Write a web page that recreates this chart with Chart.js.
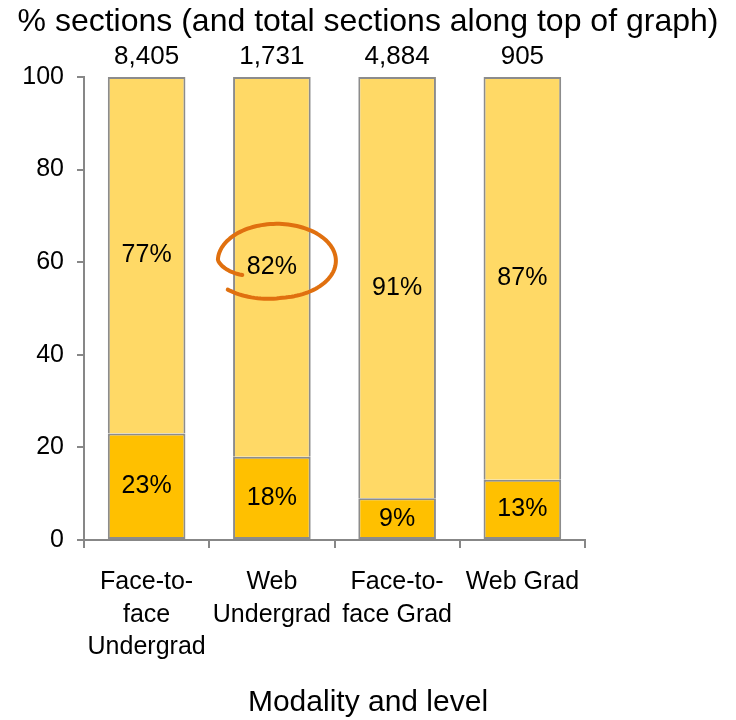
<!DOCTYPE html>
<html>
<head>
<meta charset="utf-8">
<script src="https://cdn.jsdelivr.net/npm/chart.js@4/dist/chart.umd.min.js"></script>
<style>
  body { margin: 0; background: #fff; }
  #wrap { width: 736px; height: 720px; }
</style>
</head>
<body>
<div id="wrap"><canvas id="sectionsChart" width="736" height="720"></canvas></div>
<script>
const categories = [['Face-to-', 'face', 'Undergrad'], ['Web', 'Undergrad'], ['Face-to-', 'face Grad'], ['Web Grad']];
const lowerShare = [23, 18, 9, 13];
const upperShare = [77, 82, 91, 87];
const totalSections = ['8,405', '1,731', '4,884', '905'];
const yTicks = [0, 20, 40, 60, 80, 100];
const chartTitle = '% sections (and total sections along top of graph)';
const xAxisTitle = 'Modality and level';

const FONT = "'Liberation Sans', Arial, sans-serif";
const AXIS_GRAY = '#878787';

// percent labels inside each stacked segment
const segmentLabels = {
    id: 'segmentLabels',
    afterDatasetsDraw(chart) {
        const ctx = chart.ctx;
        ctx.save();
        ctx.font = '25px ' + FONT;
        ctx.fillStyle = '#000';
        ctx.textAlign = 'center';
        ctx.textBaseline = 'middle';
        chart.data.datasets.forEach((ds, di) => {
            chart.getDatasetMeta(di).data.forEach((bar, i) => {
                ctx.fillText(ds.data[i] + '%', bar.x, (bar.y + bar.base) / 2);
            });
        });
        ctx.restore();
    }
};

// titles centred on the whole canvas, totals along the top
const headings = {
    id: 'headings',
    afterDraw(chart) {
        const ctx = chart.ctx;
        const x = chart.scales.x;
        ctx.save();
        ctx.fillStyle = '#000';
        ctx.textAlign = 'center';
        ctx.textBaseline = 'middle';
        ctx.font = '32px ' + FONT;
        ctx.fillText(chartTitle, chart.width / 2, 22);
        ctx.font = '30px ' + FONT;
        ctx.fillText(xAxisTitle, chart.width / 2, 703);
        ctx.font = '26px ' + FONT;
        totalSections.forEach((t, i) => {
            ctx.fillText(t, x.getPixelForValue(i), chart.chartArea.top - 20);
        });
        ctx.restore();
    }
};

// hand drawn orange loop around the Web Undergrad share
const handCircle = {
    id: 'handCircle',
    afterDraw(chart) {
        const bar = chart.getDatasetMeta(1).data[1];
        const cx = bar.x + 5;
        const cy = (bar.y + bar.base) / 2 - 6;
        const rx = 59, ry = 37;
        const a0 = 2.39, a1 = -3.72;
        const ctx = chart.ctx;
        ctx.save();
        ctx.strokeStyle = '#E0700F';
        ctx.lineWidth = 4;
        ctx.lineCap = 'round';
        ctx.lineJoin = 'round';
        ctx.beginPath();
        const n = 120;
        for (let k = 0; k <= n; k++) {
            const t = k / n;
            const a = a0 + (a1 - a0) * t;
            const s = 1 + 0.14 * Math.max(0, 1 - t / 0.15) - 0.3 * Math.pow(Math.max(0, (t - 0.9) / 0.1), 1.3);
            const px = cx + Math.cos(a) * rx * s;
            const py = cy + Math.sin(a) * ry * s;
            if (k === 0) ctx.moveTo(px, py); else ctx.lineTo(px, py);
        }
        ctx.stroke();
        ctx.restore();
    }
};

new Chart(document.getElementById('sectionsChart').getContext('2d'), {
    type: 'bar',
    data: {
        labels: categories,
        datasets: [{
            label: 'lower',
            data: lowerShare,
            backgroundColor: '#FFC000',
            borderColor: '#8C8C8C',
            borderWidth: 2,
            borderSkipped: false
        }, {
            label: 'upper',
            data: upperShare,
            backgroundColor: '#FFD966',
            borderColor: '#8C8C8C',
            borderWidth: 2,
            borderSkipped: 'bottom'
        }]
    },
    options: {
        responsive: false,
        animation: false,
        barPercentage: 0.62,
        categoryPercentage: 1,
        layout: { padding: { left: 0, right: 151, top: 77, bottom: 0 } },
        plugins: {
            legend: { display: false },
            tooltip: { enabled: false },
            title: { display: false }
        },
        scales: {
            x: {
                stacked: true,
                afterFit(scale) { scale.height = 180; },
                grid: { drawOnChartArea: false, tickLength: 8, color: AXIS_GRAY, lineWidth: 2 },
                border: { color: AXIS_GRAY, width: 2 },
                ticks: {
                    color: '#000',
                    font: { family: FONT, size: 25, lineHeight: 1.3 },
                    padding: 18,
                    maxRotation: 0,
                    autoSkip: false
                }
            },
            y: {
                stacked: true,
                min: 0,
                max: 100,
                afterFit(scale) { scale.width = 84; },
                afterBuildTicks(scale) { scale.ticks = yTicks.map(v => ({ value: v })); },
                grid: { drawOnChartArea: false, tickLength: 7, color: AXIS_GRAY, lineWidth: 2 },
                border: { color: AXIS_GRAY, width: 2 },
                ticks: {
                    color: '#000',
                    font: { family: FONT, size: 25 },
                    padding: 13
                }
            }
        }
    },
    plugins: [segmentLabels, headings, handCircle]
});
</script>
</body>
</html>
